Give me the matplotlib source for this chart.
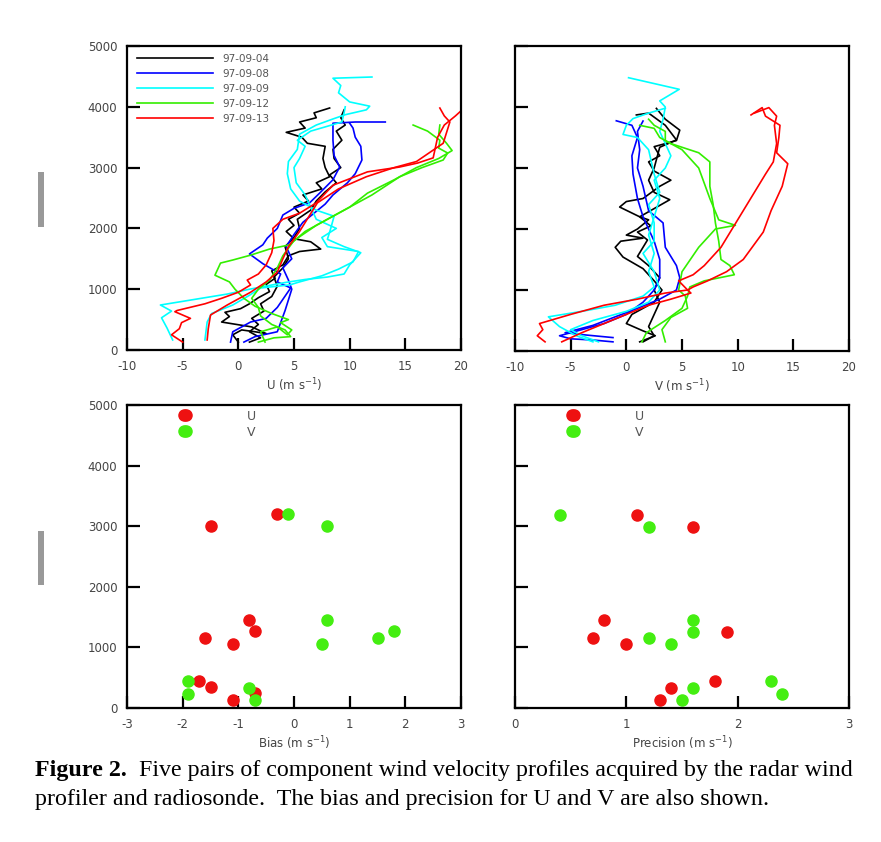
import numpy as np
import matplotlib
matplotlib.use("Agg")
import matplotlib.pyplot as plt
from matplotlib.patches import Rectangle

plt.rcParams['axes.unicode_minus'] = False

# ---- profiles: (value, height m), two profiles per date ----
dates = ['97-09-04', '97-09-08', '97-09-09', '97-09-12', '97-09-13']
colors = ['black', '#0000ff', '#00ffff', '#33ee00', '#ff0000']

U_0904 = [
    [(0.0, 130), (-0.5, 250), (0.3, 330), (1.5, 300), (2.5, 270), (1.2, 380), (-1.5, 460), (-0.8, 550),
     (-1.2, 620), (0.2, 680), (1.0, 760), (1.8, 860), (2.8, 960), (2.5, 1080), (3.3, 1180), (3.0, 1300),
     (4.0, 1400), (4.5, 1550), (5.5, 1620), (7.4, 1660), (6.5, 1780), (5.0, 1830), (4.3, 1950), (5.0, 2050),
     (4.5, 2150), (5.5, 2250), (5.0, 2350), (6.3, 2450), (5.8, 2550), (7.5, 2650), (7.0, 2750), (8.2, 2850),
     (7.8, 3000), (7.6, 3150), (7.8, 3350), (6.2, 3400), (5.7, 3500), (4.3, 3580), (6.0, 3650), (5.5, 3750),
     (7.0, 3820), (6.8, 3900), (8.2, 3980)],
    [(1.0, 130), (2.0, 200), (1.0, 300), (1.8, 420), (1.2, 520), (2.3, 640), (2.0, 760), (3.0, 880),
     (3.5, 1050), (3.2, 1200), (4.0, 1350), (4.5, 1500), (4.2, 1700), (5.0, 1850), (5.5, 2000), (5.3, 2150),
     (6.5, 2300), (7.0, 2450), (7.8, 2600), (8.8, 2750), (8.2, 2880), (9.2, 3000), (8.6, 3150), (8.5, 3300),
     (9.3, 3450), (8.8, 3600), (9.6, 3700), (9.2, 3820), (9.5, 3950)],
]
U_0908 = [
    [(-0.7, 130), (-0.5, 300), (1.1, 460), (2.5, 520), (3.5, 700), (4.7, 1020), (3.5, 1120), (3.8, 1250),
     (2.2, 1420), (1.0, 1580), (2.2, 1730), (2.6, 1840), (3.5, 2000), (4.0, 2220), (5.0, 2330), (6.4, 2420),
     (7.3, 2580), (8.5, 2800), (9.1, 3010), (8.6, 3200), (8.5, 3450), (8.5, 3650), (8.5, 3730), (10.5, 3750),
     (13.2, 3750)],
    [(0.5, 130), (1.5, 220), (2.5, 260), (3.5, 300), (3.8, 450), (4.2, 650), (4.8, 1000), (4.5, 1150),
     (4.0, 1350), (4.8, 1500), (4.3, 1700), (5.0, 1900), (5.8, 2100), (6.8, 2250), (7.8, 2400), (8.5, 2550),
     (9.8, 2750), (10.5, 2900), (11.1, 3125), (11.0, 3350), (10.5, 3500), (10.3, 3650), (10.0, 3730)],
]
U_0909 = [
    [(-5.9, 165), (-6.4, 360), (-6.9, 530), (-6.0, 640), (-7.0, 740), (-4.0, 830), (-1.0, 920), (1.0, 1000),
     (4.2, 1110), (6.0, 1160), (8.0, 1200), (9.5, 1250), (10.0, 1400), (11.0, 1600), (9.5, 1700), (8.0, 1820),
     (8.3, 2000), (8.6, 2200), (7.0, 2300), (5.5, 2450), (4.7, 2650), (4.4, 2900), (4.5, 3100), (5.3, 3300),
     (5.5, 3550), (7.0, 3700), (8.5, 3800), (9.6, 3870), (11.5, 3950), (11.8, 4010), (10.0, 4080), (9.0, 4230),
     (9.2, 4350), (8.5, 4470), (12.0, 4490)],
    [(-3.0, 165), (-2.8, 460), (-2.4, 600), (-0.5, 740), (1.0, 900), (2.0, 1020), (4.6, 1070), (5.5, 1120),
     (7.5, 1220), (9.0, 1330), (10.3, 1450), (10.8, 1620), (8.0, 1700), (7.5, 1850), (8.8, 2000), (7.0, 2150),
     (6.5, 2350), (6.0, 2550), (5.2, 2750), (5.0, 3000), (5.5, 3150), (6.0, 3350), (5.3, 3450), (6.5, 3600),
     (8.0, 3680), (9.3, 3750), (9.5, 3900), (9.6, 4000)],
]
U_0912 = [
    [(2.4, 130), (2.0, 300), (3.5, 380), (4.4, 250), (4.8, 330), (3.8, 450), (4.5, 500), (3.0, 600),
     (1.5, 720), (0.5, 850), (-0.3, 1000), (-0.8, 1120), (-2.1, 1230), (-1.6, 1430), (-0.5, 1480), (1.1, 1560),
     (2.8, 1660), (4.6, 1730), (6.0, 1950), (8.0, 2150), (10.0, 2350), (12.0, 2550), (14.5, 2850), (16.5, 3000),
     (18.4, 3125), (18.8, 3240), (18.0, 3320), (18.1, 3450), (17.0, 3600), (15.7, 3700)],
    [(1.8, 130), (3.2, 200), (4.7, 220), (4.2, 330), (3.0, 420), (2.0, 560), (1.8, 700), (1.2, 850),
     (1.8, 1000), (2.8, 1150), (3.5, 1350), (4.0, 1550), (5.0, 1800), (7.0, 2050), (8.5, 2200), (10.0, 2350),
     (11.6, 2580), (14.0, 2800), (16.0, 3000), (18.0, 3150), (19.2, 3280), (18.7, 3400), (18.0, 3550),
     (18.1, 3700)],
]
U_0913 = [
    [(-5.0, 130), (-6.0, 250), (-5.3, 350), (-5.1, 450), (-4.3, 520), (-5.7, 630), (-5.5, 650), (-3.0, 760),
     (-1.5, 850), (0.0, 950), (1.1, 1070), (0.8, 1150), (1.8, 1250), (2.5, 1400), (3.0, 1600), (3.2, 1800),
     (3.1, 2000), (4.0, 2150), (5.5, 2250), (7.0, 2420), (8.5, 2710), (11.6, 2930), (14.5, 3010), (16.1, 3075),
     (17.5, 3160), (17.9, 3500), (18.5, 3700), (19.5, 3850), (20.1, 3950)],
    [(-2.8, 165), (-2.7, 350), (-2.5, 575), (-1.0, 740), (1.1, 950), (2.5, 1120), (3.5, 1280), (4.0, 1500),
     (4.5, 1700), (5.5, 1950), (7.1, 2420), (9.0, 2650), (11.5, 2850), (14.0, 3000), (16.0, 3100), (18.4, 3400),
     (19.0, 3750), (18.5, 3850), (18.1, 3980)],
]

V_0904 = [
    [(1.2, 150), (2.6, 250), (1.5, 330), (0.0, 450), (0.5, 600), (1.5, 700), (2.5, 800), (3.2, 1000),
     (2.5, 1150), (1.5, 1350), (-0.3, 1540), (-1.0, 1700), (-0.5, 1800), (1.5, 1850), (0.0, 1900), (1.0, 2000),
     (2.0, 2150), (1.2, 2200), (-0.6, 2360), (0.0, 2450), (1.5, 2500), (3.0, 2700), (4.0, 2800), (2.5, 2950),
     (2.0, 3100), (3.0, 3200), (2.5, 3350), (4.5, 3450), (4.8, 3620), (3.5, 3800), (2.7, 3977)],
    [(1.5, 150), (2.5, 250), (2.0, 400), (2.5, 600), (3.0, 800), (2.5, 1000), (3.0, 1200), (2.0, 1400),
     (1.0, 1550), (1.9, 1820), (1.0, 1950), (2.2, 2050), (1.2, 2200), (3.9, 2480), (2.5, 2600), (2.0, 2800),
     (2.5, 3000), (3.0, 3340), (4.5, 3460), (3.5, 3700), (2.0, 3900), (0.9, 3870)],
]
V_0908 = [
    [(-1.2, 150), (-3.0, 180), (-5.0, 200), (-6.0, 250), (-4.0, 350), (-2.0, 450), (0.0, 600), (1.5, 800),
     (2.5, 1000), (3.0, 1200), (3.0, 1500), (2.5, 1800), (2.0, 2000), (1.5, 2200), (1.0, 2500), (0.6, 2900),
     (0.5, 3200), (1.0, 3500), (0.5, 3700), (-0.9, 3774)],
    [(-1.2, 220), (-3.5, 260), (-5.5, 300), (-3.0, 420), (-1.0, 560), (1.0, 700), (3.0, 850), (4.5, 1000),
     (4.8, 1200), (4.5, 1400), (3.5, 1700), (3.3, 2100), (2.0, 2300), (1.5, 2700), (1.0, 3000), (1.2, 3300),
     (1.0, 3600), (1.5, 3770)],
]
V_0909 = [
    [(-3.0, 150), (-4.5, 250), (-6.0, 400), (-7.0, 560), (-4.0, 650), (-1.0, 750), (1.5, 900), (2.5, 1050),
     (2.0, 1300), (2.5, 1600), (2.0, 1900), (2.5, 2200), (3.0, 2500), (2.5, 2800), (3.5, 3000), (4.0, 3200),
     (3.5, 3400), (3.0, 3600), (3.3, 3800), (3.5, 4000), (3.0, 4100), (4.75, 4290), (0.2, 4480)],
    [(-2.5, 150), (-4.0, 250), (-5.0, 350), (-3.0, 500), (0.0, 650), (2.0, 800), (3.0, 1000), (2.5, 1300),
     (1.5, 1600), (2.5, 1800), (2.5, 2100), (2.0, 2400), (3.0, 2600), (2.5, 2900), (2.0, 3300), (1.0, 3500),
     (-0.3, 3550), (0.0, 3700), (0.6, 3810), (2.0, 3900), (3.5, 3980)],
]
V_0912 = [
    [(1.4, 150), (1.8, 300), (3.5, 500), (5.0, 700), (5.5, 900), (5.7, 1050), (7.0, 1150), (9.7, 1250),
     (9.3, 1400), (8.5, 1500), (8.3, 1800), (8.0, 2100), (7.8, 2400), (7.5, 2700), (7.5, 3100), (6.5, 3250),
     (4.0, 3400), (3.0, 3500), (2.5, 3650), (1.2, 3700)],
    [(3.5, 150), (3.2, 350), (4.0, 550), (5.5, 700), (5.3, 900), (4.7, 1000), (5.0, 1300), (6.5, 1700),
     (8.0, 2000), (9.8, 2060), (8.3, 2150), (7.5, 2500), (6.5, 3000), (5.0, 3300), (3.5, 3450), (3.5, 3600),
     (2.5, 3700), (2.0, 3800)],
]
V_0913 = [
    [(-7.3, 150), (-8.0, 250), (-7.5, 350), (-7.8, 450), (-5.0, 600), (-2.0, 750), (1.0, 850), (3.5, 950),
     (5.5, 1000), (6.0, 1050), (7.3, 1150), (9.0, 1300), (10.5, 1500), (12.3, 1950), (13.0, 2300), (14.0, 2700),
     (14.5, 3070), (13.5, 3250), (13.7, 3500), (13.8, 3700), (12.5, 3850), (12.2, 3990), (11.2, 3870)],
    [(-5.8, 150), (-4.0, 300), (-2.0, 450), (0.0, 600), (2.0, 750), (4.0, 850), (5.8, 950), (5.5, 1000),
     (4.7, 1150), (6.0, 1250), (7.0, 1400), (8.5, 1700), (9.5, 2000), (10.5, 2300), (11.5, 2600), (12.5, 2900),
     (13.2, 3100), (13.5, 3400), (13.3, 3700), (13.5, 3850), (12.8, 3990), (11.5, 3900)],
]

U_profiles = [U_0904, U_0908, U_0909, U_0912, U_0913]
V_profiles = [V_0904, V_0908, V_0909, V_0912, V_0913]

# ---- bias / precision (m s-1) at heights ----
bias_u = [-0.3, -1.5, -0.8, -0.7, -1.6, -1.1, -1.7, -1.5, -0.7, -1.1]
bias_u_z = [3200, 3000, 1450, 1270, 1150, 1050, 450, 340, 240, 140]
bias_v = [-0.1, 0.6, 0.6, 1.8, 1.5, 0.5, -1.9, -1.9, -0.8, -0.7]
bias_v_z = [3200, 3000, 1460, 1265, 1155, 1050, 445, 230, 335, 137]

prec_u = [1.1, 1.6, 0.8, 1.9, 0.7, 1.0, 1.8, 1.4, 1.3]
prec_u_z = [3180, 2990, 1460, 1255, 1155, 1050, 445, 335, 137]
prec_v = [0.4, 1.2, 1.6, 1.6, 1.2, 1.4, 2.3, 2.4, 1.6, 1.5]
prec_v_z = [3190, 2990, 1460, 1255, 1155, 1050, 445, 236, 335, 137]

W, H = 881, 842
fig = plt.figure(figsize=(W / 100, H / 100), dpi=100)
fig.patch.set_facecolor('white')

tick_color = '#444444'


def px_axes(l, r, t, b):
    return fig.add_axes([l / W, 1 - b / H, (r - l) / W, (b - t) / H])


def style(ax, xlim, xticks, ylabels=True):
    ax.set_xlim(*xlim)
    ax.set_ylim(0, 5000)
    ax.set_xticks(xticks)
    ax.set_yticks(np.arange(0, 5001, 1000))
    ax.tick_params(direction='in', length=9, width=1.6, color='black',
                   labelsize=8.5, labelcolor=tick_color, pad=7)
    for s in ax.spines.values():
        s.set_linewidth(1.6)
    if not ylabels:
        ax.set_yticklabels([])


ax1 = px_axes(127, 461, 46, 350)
ax2 = px_axes(515, 849, 46, 351)
ax3 = px_axes(127, 461, 405, 708)
ax4 = px_axes(515, 849, 405, 708)

for i in range(5):
    for k, prof in enumerate(U_profiles[i]):
        p = np.array(prof)
        ax1.plot(p[:, 0], p[:, 1], color=colors[i], lw=1.2,
                 label=dates[i] if k == 0 else None)
    for prof in V_profiles[i]:
        p = np.array(prof)
        ax2.plot(p[:, 0], p[:, 1], color=colors[i], lw=1.2)

style(ax1, (-10, 20), np.arange(-10, 21, 5))
style(ax2, (-10, 20), np.arange(-10, 21, 5), ylabels=False)
ax1.set_xlabel(r'U (m s$^{-1}$)', fontsize=8.5, color=tick_color, labelpad=3)
ax2.set_xlabel(r'V (m s$^{-1}$)', fontsize=8.5, color=tick_color, labelpad=3)

leg = ax1.legend(loc='upper left', bbox_to_anchor=(0.03, 0.975), frameon=False,
                 fontsize=7.5, handlelength=7.3, handletextpad=0.9,
                 labelspacing=0.48, borderpad=0, borderaxespad=0)
for t in leg.get_texts():
    t.set_color('#555555')

red_c = '#ee1111'
green_c = '#44ee11'
ms = 8

ax3.plot(bias_u, bias_u_z, 'o', color=red_c, ms=ms, mec=red_c, label='U')
ax3.plot(bias_v, bias_v_z, 'o', color=green_c, ms=ms, mec=green_c, label='V')
ax4.plot(prec_u, prec_u_z, 'o', color=red_c, ms=ms, mec=red_c, label='U')
ax4.plot(prec_v, prec_v_z, 'o', color=green_c, ms=ms, mec=green_c, label='V')

style(ax3, (-3, 3), np.arange(-3, 4, 1))
style(ax4, (0, 3), np.arange(0, 4, 1), ylabels=False)
ax3.set_xlabel(r'Bias (m s$^{-1}$)', fontsize=8.5, color=tick_color, labelpad=3)
ax4.set_xlabel(r'Precision (m s$^{-1}$)', fontsize=8.5, color=tick_color, labelpad=3)

for ax in (ax3, ax4):
    lg = ax.legend(loc='upper left', bbox_to_anchor=(0.16, 0.985), frameon=False,
                   numpoints=2, fontsize=9, handlelength=0.75, handletextpad=4.6,
                   labelspacing=0.25, borderpad=0, borderaxespad=0)
    for t in lg.get_texts():
        t.set_color('#555555')

# gray bars at left margin
fig.add_artist(Rectangle((38 / W, 1 - 227 / H), 6 / W, 55 / H,
                         transform=fig.transFigure, color='#999999', lw=0))
fig.add_artist(Rectangle((38 / W, 1 - 585 / H), 6 / W, 54 / H,
                         transform=fig.transFigure, color='#999999', lw=0))

# caption
fs = 17.3
renderer = fig.canvas.get_renderer()
y1 = 1 - 776 / H
y2 = 1 - 805 / H
t1 = fig.text(35 / W, y1, 'Figure 2.', fontsize=fs, fontweight='bold',
              family='Liberation Serif', va='baseline')
bb = t1.get_window_extent(renderer)
fig.text((bb.x1 + 6) / W, y1,
         ' Five pairs of component wind velocity profiles acquired by the radar wind',
         fontsize=fs, family='Liberation Serif', va='baseline')
fig.text(35 / W, y2,
         'profiler and radiosonde.  The bias and precision for U and V are also shown.',
         fontsize=fs, family='Liberation Serif', va='baseline')

fig.savefig('out.png', dpi=100, facecolor='white')
